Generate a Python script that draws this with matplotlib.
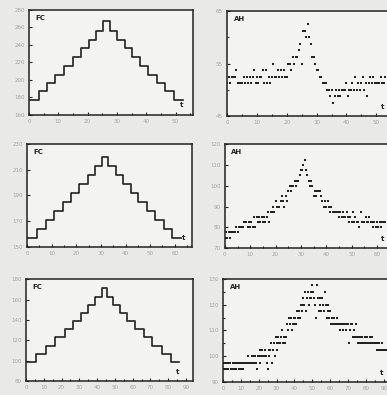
import numpy as np
import matplotlib
matplotlib.use('Agg')
import matplotlib.pyplot as plt
from matplotlib.ticker import MultipleLocator, FixedLocator

# FC staircases: start time of each level and the level value
fc1_t = [0, 3.3, 6.2, 9.0, 12.0, 14.9, 17.8, 20.3, 23.0, 25.3,
         27.7, 30.0, 32.6, 35.2, 37.9, 40.7, 43.6, 46.5, 49.4, 52.7]
fc1 = [177, 187, 197, 206, 216, 226, 236, 246, 256, 267,
       256, 246, 236, 226, 216, 206, 196, 187, 177, 177]

fc2_t = [0, 4.1, 7.5, 11.0, 14.4, 17.8, 21.2, 24.7, 27.8, 30.5,
         32.9, 36.0, 39.0, 42.2, 45.2, 48.6, 52.0, 55.5, 58.9, 62.7]
fc2 = [157, 164, 171, 178, 185, 192, 199, 206, 213, 220,
       213, 206, 199, 192, 185, 178, 171, 164, 157, 157]

fc3_t = [0, 5.7, 11.4, 16.1, 21.8, 26.5, 31.2, 35.0, 38.8, 42.6,
         45.5, 49.2, 53.0, 56.8, 61.6, 66.3, 71.0, 76.3, 81.4, 86.2]
fc3 = [99, 107, 115, 123, 131, 139, 147, 155, 163, 171,
       163, 155, 147, 139, 131, 123, 115, 107, 99, 99]

# AH intervals, one value every half time unit
ah1 = [51.25, 52.5, 51.25, 52.5, 52.5, 52.5, 53.75, 51.25, 51.25, 51.25,
       51.25, 52.5, 51.25, 52.5, 51.25, 52.5, 51.25, 52.5, 53.75, 51.25,
       52.5, 51.25, 52.5, 52.5, 53.75, 51.25, 53.75, 51.25, 52.5, 51.25,
       52.5, 55.0, 52.5, 52.5, 53.75, 52.5, 53.75, 52.5, 53.75, 52.5,
       52.5, 55.0, 55.0, 53.75, 56.25, 55.0, 56.25, 56.25, 57.5, 58.75,
       55.0, 61.25, 61.25, 60.0, 62.5, 60.0, 58.75, 56.25, 56.25, 55.0,
       53.75, 53.75, 52.5, 52.5, 51.25, 51.25, 51.25, 50.0, 50.0, 48.75,
       50.0, 47.5, 48.75, 50.0, 48.75, 50.0, 48.75, 50.0, 50.0, 50.0,
       51.25, 48.75, 50.0, 50.0, 51.25, 50.0, 52.5, 50.0, 51.25, 50.0,
       51.25, 52.5, 50.0, 51.25, 48.75, 51.25, 52.5, 51.25, 52.5, 51.25,
       51.25, 51.25, 51.25, 52.5, 51.25, 51.25, 52.5]

ah2 = [75, 77.5, 75, 77.5, 75, 77.5, 77.5, 77.5, 77.5, 80,
       77.5, 80, 80, 80, 80, 82.5, 82.5, 82.5, 80, 82.5,
       80, 82.5, 80, 85, 80, 85, 82.5, 85, 82.5, 85,
       82.5, 85, 82.5, 85, 87.5, 82.5, 87.5, 87.5, 90, 87.5,
       92.5, 90, 90, 90, 92.5, 95, 92.5, 90, 95, 92.5,
       97.5, 100, 97.5, 100, 100, 102.5, 100, 102.5, 102.5, 105,
       107.5, 107.5, 110, 112.5, 107.5, 105, 102.5, 100, 102.5, 100,
       95, 97.5, 95, 97.5, 97.5, 97.5, 95, 92.5, 90, 92.5,
       90, 92.5, 90, 87.5, 90, 87.5, 87.5, 87.5, 87.5, 87.5,
       85, 87.5, 85, 87.5, 85, 85, 87.5, 85, 82.5, 85,
       82.5, 87.5, 82.5, 85, 82.5, 82.5, 80, 87.5, 82.5, 82.5,
       82.5, 85, 82.5, 82.5, 85, 82.5, 82.5, 80, 82.5, 80,
       82.5, 80, 82.5, 80, 82.5, 82.5, 82.5]

ah3 = [97.5, 95, 97.5, 95, 95, 97.5, 95, 97.5, 97.5, 95,
       95, 97.5, 95, 97.5, 95, 95, 97.5, 97.5, 95, 97.5,
       95, 97.5, 95, 97.5, 97.5, 97.5, 97.5, 97.5, 100, 97.5,
       97.5, 97.5, 100, 97.5, 100, 97.5, 100, 97.5, 95, 100,
       100, 97.5, 102.5, 100, 102.5, 100, 100, 102.5, 100, 97.5,
       95, 102.5, 100, 102.5, 105, 97.5, 102.5, 105, 100, 107.5,
       105, 102.5, 107.5, 105, 105, 107.5, 110, 105, 107.5, 105,
       107.5, 107.5, 112.5, 110, 115, 112.5, 115, 110, 112.5, 115,
       112.5, 115, 112.5, 117.5, 115, 117.5, 115, 120, 117.5, 120,
       122.5, 120, 125, 117.5, 122.5, 125, 120, 122.5, 125, 122.5,
       127.5, 125, 122.5, 120, 115, 127.5, 122.5, 117.5, 120, 122.5,
       117.5, 122.5, 120, 117.5, 125, 120, 115, 117.5, 120, 115,
       117.5, 112.5, 115, 112.5, 115, 112.5, 112.5, 115, 112.5, 112.5,
       112.5, 110, 112.5, 112.5, 110, 112.5, 112.5, 112.5, 110, 112.5,
       112.5, 105, 110, 112.5, 112.5, 107.5, 110, 107.5, 107.5, 112.5,
       107.5, 105, 107.5, 105, 107.5, 105, 107.5, 105, 105, 107.5,
       105, 107.5, 105, 105, 107.5, 105, 105, 107.5, 105, 105,
       105, 105, 102.5, 105, 102.5, 105, 102.5, 102.5, 105, 102.5,
       102.5, 102.5, 102.5]

# y tick values per panel
fc1_yticks = [160, 180, 200, 220, 240, 260, 280]
ah1_yticks = [45, 55, 65]
fc2_yticks = [150, 170, 190, 210, 230]
ah2_yticks = [70, 80, 90, 100, 110, 120]
fc3_yticks = [80, 100, 120, 140, 160, 180]
ah3_yticks = [90, 100, 110, 120, 130]

INK = '#222222'
LABEL_GREY = '#a3a3a3'


def style_axes(ax, xlim, yticks, tag, tpos, yminor=None):
    ax.set_facecolor('#f3f3f1')
    ax.set_xlim(*xlim)
    ax.set_ylim(yticks[0], yticks[-1])
    ax.xaxis.set_major_locator(MultipleLocator(10))
    ax.xaxis.set_minor_locator(MultipleLocator(5))
    ax.yaxis.set_major_locator(FixedLocator(yticks))
    if yminor:
        ax.yaxis.set_minor_locator(MultipleLocator(yminor))
    for sp in ax.spines.values():
        sp.set_linewidth(1.1)
        sp.set_color(INK)
    ax.tick_params(which='both', direction='in', color=INK, width=0.8,
                   labelsize=4, labelcolor=LABEL_GREY, pad=3)
    ax.tick_params(which='major', length=2.5)
    ax.tick_params(which='minor', length=1.5)
    ax.text(0.04, 0.92, tag, transform=ax.transAxes, fontsize=5,
            fontweight='bold', color=INK, va='center', ha='left')
    ax.text(tpos, 0.09, 't', transform=ax.transAxes, fontsize=5,
            fontweight='bold', color=INK, va='center', ha='center')


def draw_fc(ax, t, fc):
    ax.step(t, fc, where='post', color=INK, lw=1.2)


def draw_ah(ax, ah, dt):
    t = np.arange(len(ah)) * dt
    ax.plot(t, ah, ls='none', marker='s', ms=1.7, mew=0, color=INK)


def main():
    fig = plt.figure(figsize=(3.87, 3.95), dpi=100, facecolor='#e9e9e7')

    ax1 = fig.add_axes([0.075, 0.709, 0.424, 0.266])
    draw_fc(ax1, fc1_t, fc1)
    style_axes(ax1, (0, 56), fc1_yticks, 'FC', 0.93)

    ax2 = fig.add_axes([0.587, 0.706, 0.42, 0.266])
    draw_ah(ax2, ah1, 0.5)
    style_axes(ax2, (0, 54.5), ah1_yticks, 'AH', 0.955, yminor=5)

    ax3 = fig.add_axes([0.070, 0.375, 0.426, 0.261])
    draw_fc(ax3, fc2_t, fc2)
    style_axes(ax3, (0, 67), fc2_yticks, 'FC', 0.95)

    ax4 = fig.add_axes([0.581, 0.372, 0.426, 0.263])
    draw_ah(ax4, ah2, 0.5)
    style_axes(ax4, (0, 65), ah2_yticks, 'AH', 0.955)

    ax5 = fig.add_axes([0.067, 0.035, 0.432, 0.258])
    draw_fc(ax5, fc3_t, fc3)
    style_axes(ax5, (0, 94), fc3_yticks, 'FC', 0.91)

    ax6 = fig.add_axes([0.576, 0.033, 0.43, 0.261])
    draw_ah(ax6, ah3, 0.5)
    style_axes(ax6, (0, 93), ah3_yticks, 'AH', 0.955, yminor=5)

    fig.savefig('out.png', dpi=100, facecolor=fig.get_facecolor())


if __name__ == "__main__":
    main()
